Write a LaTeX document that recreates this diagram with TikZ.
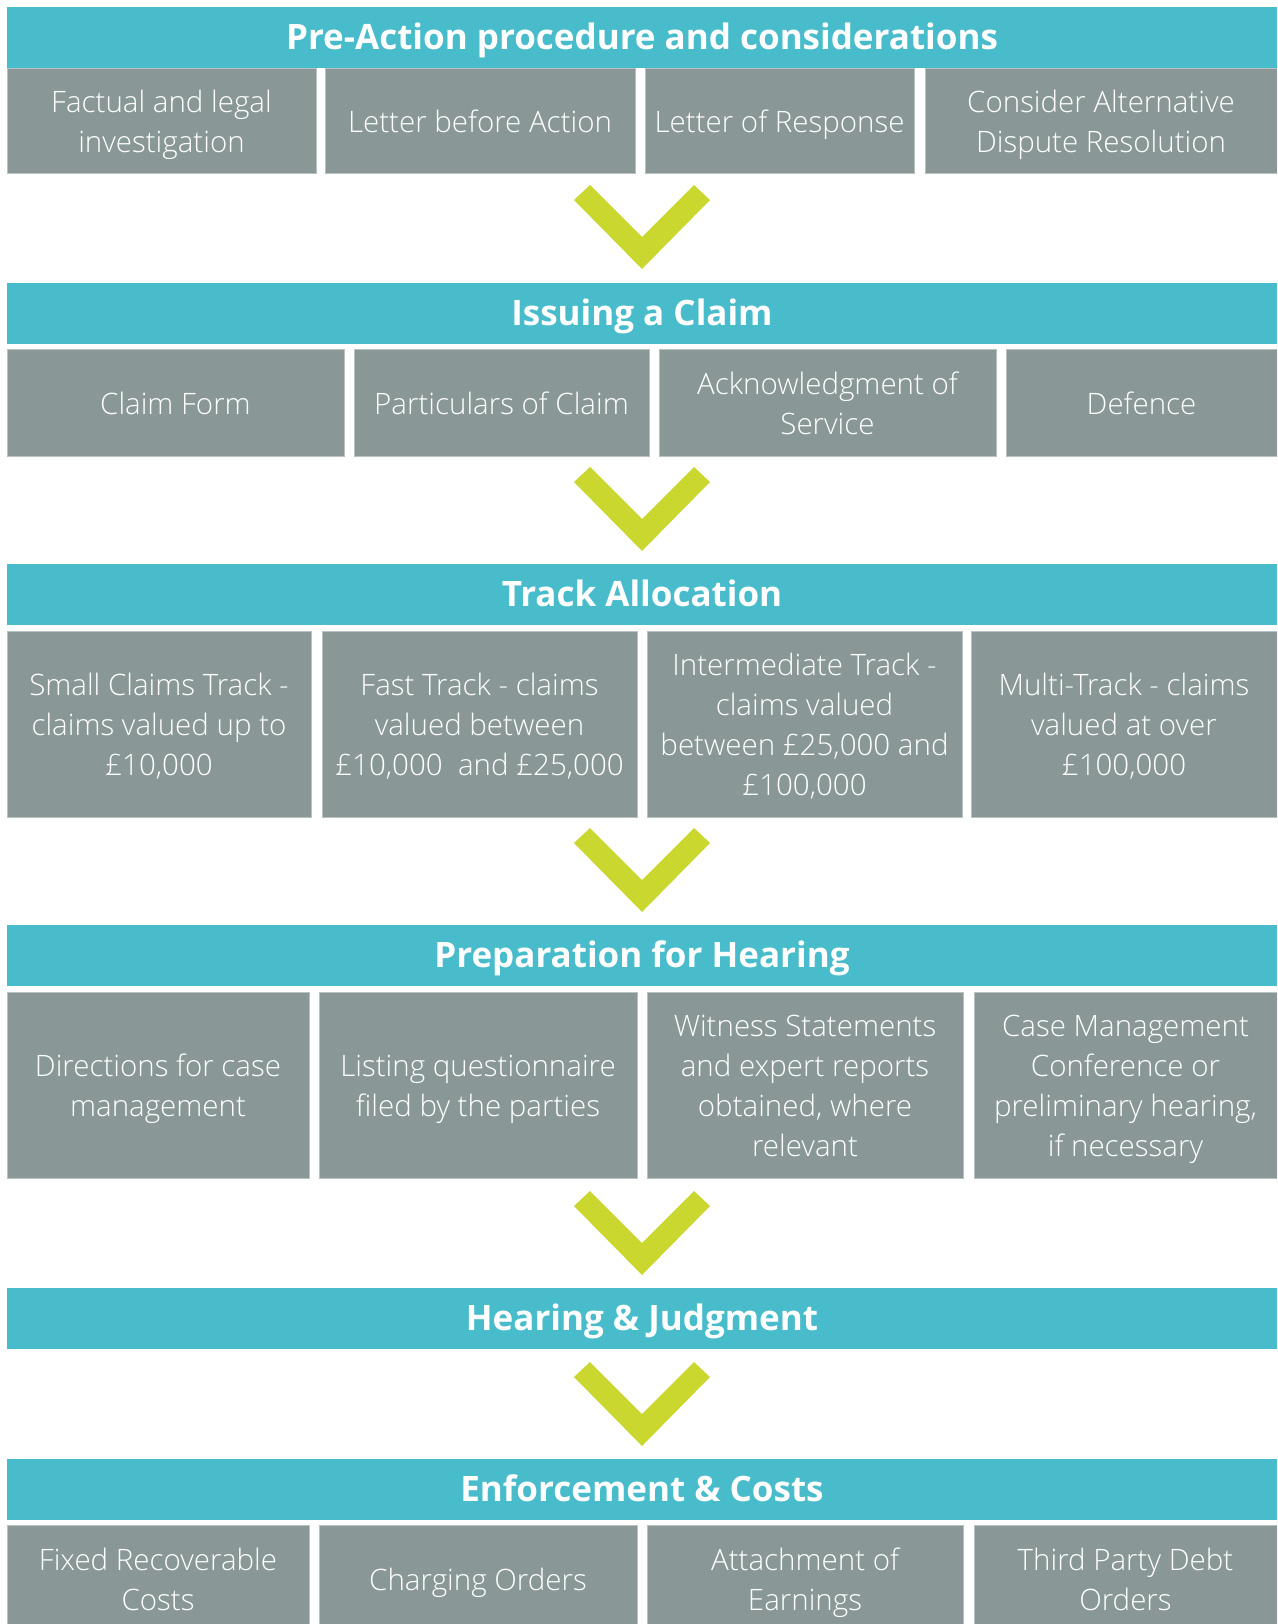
\documentclass[tikz,border=0pt]{standalone}
\usepackage{fontspec}
\setmainfont{Open Sans}
\newfontfamily\lightfont{Open Sans Light}
\definecolor{teal}{HTML}{49BCCC}
\definecolor{boxgray}{HTML}{899897}
\definecolor{boxedge}{HTML}{B9C1C1}
\definecolor{chevgreen}{HTML}{C9D72F}
\tikzset{
  banner/.style={fill=teal, minimum width=1270pt, minimum height=61pt, inner sep=0pt,
    text height=25pt, text depth=0pt,
    text=white, font=\bfseries\fontsize{35}{42}\selectfont},
  cell/.style={fill=boxgray, draw=boxedge, line width=1pt, inner sep=0pt},
  celltext/.style={text=white, inner sep=0pt, anchor=base, font=\lightfont\fontsize{29.5}{40}\selectfont},
  chevron/.pic={\fill[chevgreen] (-68,15) -- (-52,0) -- (0,52) -- (52,0) -- (68,15) -- (0,84) -- cycle;}
}
% name, cx, cy, width, height, number of lines, lines
\newcommand\cellbox[7]{%
  \node[cell, minimum width=#4pt, minimum height=#5pt] (#1) at (#2,#3) {};
  \foreach \t [count=\k] in {#7} {%
    \node[celltext] (#1-\k) at (#2,{#3+11.5+(\k-(#6+1)/2)*40}) {\t};
  }%
}
\begin{document}
\begin{tikzpicture}[x=1pt,y=-1pt]
\useasboundingbox (0,0) rectangle (1277,1624);
\clip (0,0) rectangle (1277,1624);
\fill[white] (0,0) rectangle (1277,1624);
% banners
\node[banner] (b1) at (642,37.5) {Pre-Action procedure and considerations};
\node[banner] (b2) at (642,313) {Issuing a Claim};
\node[banner] (b3) at (642,594) {Track Allocation};
\node[banner] (b4) at (642,955) {Preparation for Hearing};
\node[banner] (b5) at (642,1318) {Hearing \& Judgment};
\node[banner] (b6) at (642,1489) {Enforcement \& Costs};
% chevrons
\pic at (642,185) {chevron};
\pic at (642,467) {chevron};
\pic at (642,828) {chevron};
\pic at (642,1191) {chevron};
\pic at (642,1362) {chevron};
% row 1
\cellbox{r1a}{161.5}{121.5}{309}{105}{2}{Factual and legal,investigation}
\cellbox{r1b}{480}{121.5}{310}{105}{1}{Letter before Action}
\cellbox{r1c}{779.5}{121.5}{269}{105}{1}{Letter of Response}
\cellbox{r1d}{1101}{121.5}{352}{105}{2}{Consider Alternative,Dispute Resolution}
% row 2
\cellbox{r2a}{175.5}{402.5}{337}{107}{1}{Claim Form}
\cellbox{r2b}{501.5}{402.5}{295}{107}{1}{Particulars of Claim}
\cellbox{r2c}{827.5}{402.5}{337}{107}{2}{Acknowledgment of,Service}
\cellbox{r2d}{1141.5}{402.5}{271}{107}{1}{Defence}
% row 3
\cellbox{r3a}{159}{724}{304}{186}{3}{Small Claims Track -,claims valued up to,{£10,000}}
\cellbox{r3b}{479.5}{724}{315}{186}{3}{Fast Track - claims,valued between,{£10,000~ and £25,000}}
\cellbox{r3c}{804.5}{724}{315}{186}{4}{Intermediate Track -,claims valued,{between £25,000 and},{£100,000}}
\cellbox{r3d}{1124}{724}{306}{186}{3}{Multi-Track - claims,valued at over,{£100,000}}
% row 4
\cellbox{r4a}{158}{1085}{302}{186}{2}{Directions for case,management}
\cellbox{r4b}{478}{1085}{318}{186}{2}{Listing questionnaire,filed by the parties}
\cellbox{r4c}{805}{1085}{316}{186}{4}{Witness Statements,and expert reports,{obtained, where},relevant}
\cellbox{r4d}{1125.5}{1085}{303}{186}{4}{Case Management,Conference or,{preliminary hearing,},if necessary}
% row 6
\cellbox{r6a}{158}{1578.5}{302}{107}{2}{Fixed Recoverable,Costs}
\cellbox{r6b}{478}{1578.5}{318}{107}{1}{Charging Orders}
\cellbox{r6c}{805}{1578.5}{316}{107}{2}{Attachment of,Earnings}
\cellbox{r6d}{1125.5}{1578.5}{303}{107}{2}{Third Party Debt,Orders}
\end{tikzpicture}
\end{document}
